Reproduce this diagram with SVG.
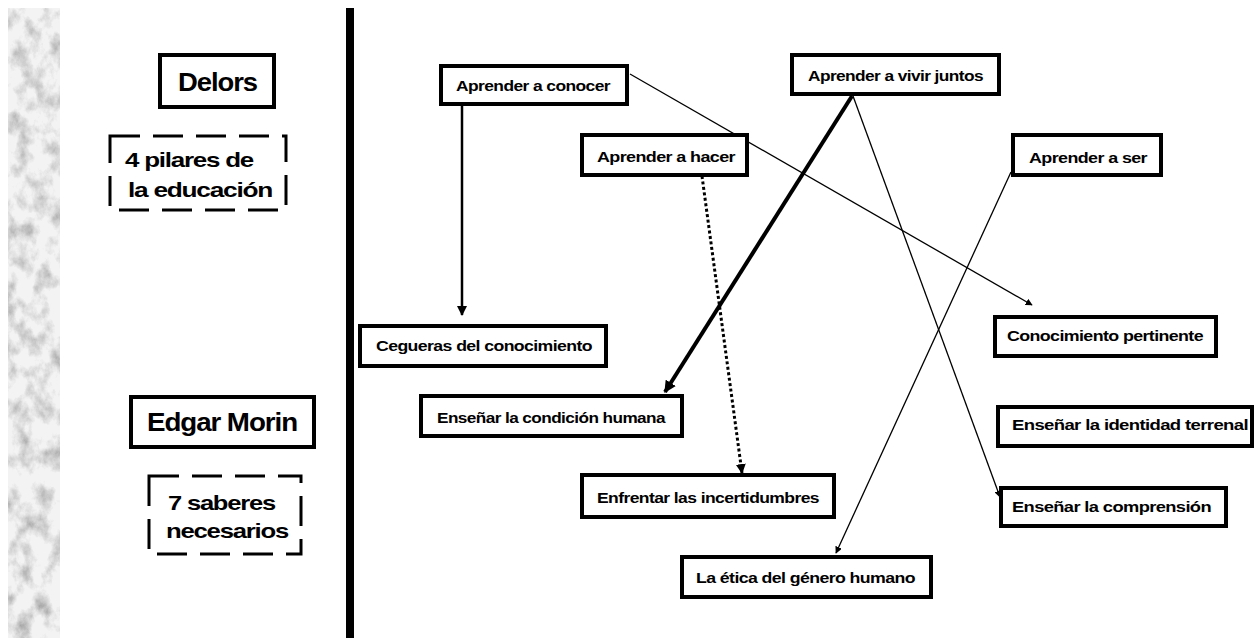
<svg xmlns="http://www.w3.org/2000/svg" width="1255" height="638" viewBox="0 0 1255 638">
  <style>
    .box { fill: #fff; stroke: #000; stroke-width: 4; }
    .dash { fill: #fff; stroke: #000; stroke-width: 3; stroke-dasharray: 30 13; }
    .t { font-family: "Liberation Sans", Arial, sans-serif; font-weight: bold; fill: #000; }
    .n { font-size: 15px; letter-spacing: -0.5px; }
    .big { font-size: 26px; letter-spacing: -1px; }
    .mid { font-size: 21px; letter-spacing: -1px; }
    .edge { fill: none; stroke: #000; }
  </style>
  <defs>
    <filter id="marble" x="0" y="0" width="100%" height="100%">
      <feTurbulence type="fractalNoise" baseFrequency="0.06 0.045" numOctaves="5" seed="7" result="noise"/>
      <feColorMatrix in="noise" type="matrix" values="0 0 0 0 0  0 0 0 0 0  0 0 0 0 0  -2 0 0 0 1.15" result="veins"/>
      <feFlood flood-color="#9c9c9c" result="ink"/>
      <feComposite in="ink" in2="veins" operator="in" result="tint"/>
      <feFlood flood-color="#f3f3f3" result="base"/>
      <feMerge><feMergeNode in="base"/><feMergeNode in="tint"/></feMerge>
    </filter>
    <marker id="ah" viewBox="0 0 10 10" refX="9" refY="5" markerWidth="7" markerHeight="7" markerUnits="userSpaceOnUse" orient="auto">
      <path d="M0,0 L10,5 L0,10 z" fill="#000"/>
    </marker>
    <marker id="ahs" viewBox="0 0 10 10" refX="9" refY="5" markerWidth="10" markerHeight="10" markerUnits="userSpaceOnUse" orient="auto">
      <path d="M0,0 L10,5 L0,10 z" fill="#000"/>
    </marker>
    <marker id="ahb" viewBox="0 0 10 10" refX="9" refY="5" markerWidth="12" markerHeight="12" markerUnits="userSpaceOnUse" orient="auto">
      <path d="M0,0 L10,5 L0,10 z" fill="#000"/>
    </marker>
  </defs>

  <rect width="1255" height="638" fill="#fff"/>

  <!-- marble side strip -->
  <rect x="8" y="8" width="52" height="630" fill="#eee" filter="url(#marble)"/>

  <!-- divider -->
  <rect x="346" y="8" width="8" height="630" fill="#000"/>

  <!-- left legend -->
  <g id="delors">
    <rect class="box" x="160" y="55" width="114" height="52"/>
    <text class="t big" x="178" y="91" textLength="79" lengthAdjust="spacingAndGlyphs">Delors</text>
  </g>
  <g id="pilares">
    <rect class="dash" x="110" y="136" width="176" height="74"/>
    <text class="t mid" x="125" y="167" textLength="128" lengthAdjust="spacingAndGlyphs">4 pilares de</text>
    <text class="t mid" x="128" y="197" textLength="144" lengthAdjust="spacingAndGlyphs">la educación</text>
  </g>
  <g id="morin">
    <rect class="box" x="131" y="397" width="183" height="50"/>
    <text class="t big" x="147" y="431" textLength="150" lengthAdjust="spacingAndGlyphs">Edgar Morin</text>
  </g>
  <g id="saberes">
    <rect class="dash" x="149" y="476" width="152" height="78"/>
    <text class="t mid" x="168" y="510" textLength="107" lengthAdjust="spacingAndGlyphs">7 saberes</text>
    <text class="t mid" x="166" y="538" textLength="122" lengthAdjust="spacingAndGlyphs">necesarios</text>
  </g>

  <!-- connectors -->
  <g id="connectors">
    <line class="edge" x1="462" y1="105" x2="462" y2="315" stroke-width="2.5" marker-end="url(#ahs)"/>
    <line class="edge" x1="630" y1="74" x2="1032" y2="305" stroke-width="1.3" marker-end="url(#ah)"/>
    <line class="edge" x1="852" y1="96" x2="665" y2="392" stroke-width="4" marker-end="url(#ahb)"/>
    <line class="edge" x1="853" y1="96" x2="1000" y2="497" stroke-width="1.3" marker-end="url(#ah)"/>
    <line class="edge" x1="702" y1="176" x2="742" y2="473" stroke-width="3" stroke-dasharray="3 2.5" marker-end="url(#ahs)"/>
    <line class="edge" x1="1011" y1="172" x2="836" y2="553" stroke-width="1.3" marker-end="url(#ah)"/>
  </g>

  <!-- Delors pillars -->
  <g id="conocer">
    <rect class="box" x="441" y="66" width="186" height="38"/>
    <text class="t n" x="456" y="91" textLength="154" lengthAdjust="spacingAndGlyphs">Aprender a conocer</text>
  </g>
  <g id="hacer">
    <rect class="box" x="582" y="135" width="165" height="40"/>
    <text class="t n" x="597" y="162" textLength="138" lengthAdjust="spacingAndGlyphs">Aprender a hacer</text>
  </g>
  <g id="vivir">
    <rect class="box" x="792" y="55" width="207" height="39"/>
    <text class="t n" x="808" y="81" textLength="175" lengthAdjust="spacingAndGlyphs">Aprender a vivir juntos</text>
  </g>
  <g id="ser">
    <rect class="box" x="1013" y="135" width="148" height="40"/>
    <text class="t n" x="1029" y="163" textLength="118" lengthAdjust="spacingAndGlyphs">Aprender a ser</text>
  </g>

  <!-- Morin knowledges -->
  <g id="cegueras">
    <rect class="box" x="360" y="326" width="246" height="40"/>
    <text class="t n" x="376" y="351" textLength="216" lengthAdjust="spacingAndGlyphs">Cegueras del conocimiento</text>
  </g>
  <g id="condicion">
    <rect class="box" x="421" y="396" width="261" height="40"/>
    <text class="t n" x="437" y="423" textLength="228" lengthAdjust="spacingAndGlyphs">Enseñar la condición humana</text>
  </g>
  <g id="incertidumbres">
    <rect class="box" x="582" y="475" width="252" height="42"/>
    <text class="t n" x="597" y="503" textLength="222" lengthAdjust="spacingAndGlyphs">Enfrentar las incertidumbres</text>
  </g>
  <g id="etica">
    <rect class="box" x="682" y="557" width="249" height="40"/>
    <text class="t n" x="696" y="583" textLength="219" lengthAdjust="spacingAndGlyphs">La ética del género humano</text>
  </g>
  <g id="pertinente">
    <rect class="box" x="995" y="317" width="221" height="39"/>
    <text class="t n" x="1007" y="341" textLength="196" lengthAdjust="spacingAndGlyphs">Conocimiento pertinente</text>
  </g>
  <g id="terrenal">
    <rect class="box" x="998" y="407" width="254" height="39"/>
    <text class="t n" x="1012" y="430" textLength="236" lengthAdjust="spacingAndGlyphs">Enseñar la identidad terrenal</text>
  </g>
  <g id="comprension">
    <rect class="box" x="1001" y="488" width="225" height="38"/>
    <text class="t n" x="1012" y="512" textLength="199" lengthAdjust="spacingAndGlyphs">Enseñar la comprensión</text>
  </g>
</svg>
